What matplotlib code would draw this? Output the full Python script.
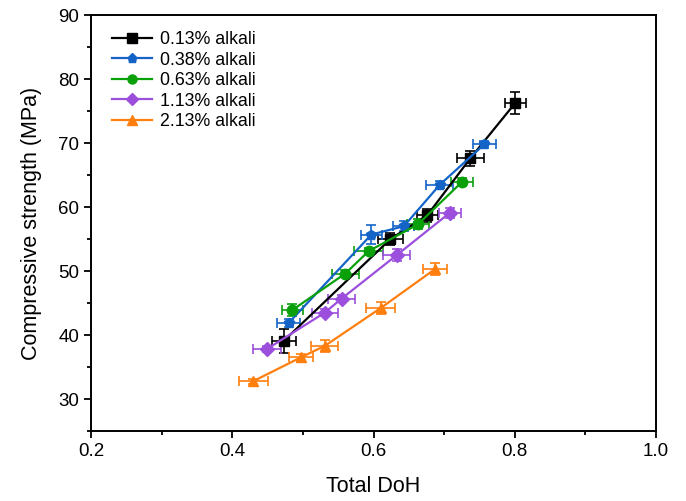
import matplotlib
matplotlib.use("Agg")
import matplotlib.pyplot as plt
from matplotlib.lines import Line2D
from matplotlib.ticker import MultipleLocator

plt.rcParams['font.family'] = ['Liberation Sans', 'DejaVu Sans']

labels = ['0.13% alkali', '0.38% alkali', '0.63% alkali', '1.13% alkali', '2.13% alkali']
colors = ['#000000', '#1464C8', '#0AA00A', '#9B4FDC', '#FF7F0E']
markers = ['s', 'p', 'o', 'D', '^']

doh = [
    [0.473, 0.624, 0.676, 0.737, 0.801],
    [0.480, 0.597, 0.643, 0.694, 0.757],
    [0.485, 0.560, 0.593, 0.663, 0.725],
    [0.449, 0.531, 0.555, 0.633, 0.708],
    [0.430, 0.497, 0.531, 0.610, 0.687],
]
strength = [
    [39.1, 55.0, 58.7, 67.6, 76.3],
    [41.9, 55.7, 57.0, 63.5, 69.8],
    [43.9, 49.6, 53.1, 57.3, 63.9],
    [37.8, 43.5, 45.7, 52.5, 59.1],
    [32.8, 36.5, 38.3, 44.2, 50.3],
]
doh_err = [
    [0.017, 0.0175, 0.015, 0.019, 0.015],
    [0.016, 0.015, 0.015, 0.019, 0.0165],
    [0.015, 0.019, 0.021, 0.015, 0.016],
    [0.020, 0.018, 0.019, 0.019, 0.016],
    [0.020, 0.017, 0.019, 0.020, 0.0165],
]
strength_err = [
    [1.9, 1.0, 1.0, 1.2, 1.7],
    [0.6, 1.5, 0.8, 0.5, 0.5],
    [1.0, 0.6, 0.5, 0.8, 0.6],
    [0.5, 0.6, 0.6, 1.0, 0.8],
    [0.4, 0.5, 0.9, 0.9, 0.9],
]

fig = plt.figure(figsize=(6.86, 5.01), dpi=100)
ax = fig.add_axes([0.1327, 0.1397, 0.8236, 0.8303])

handles = []
for i in range(len(labels)):
    ax.errorbar(doh[i], strength[i], xerr=doh_err[i], yerr=strength_err[i],
                color=colors[i], marker=markers[i], markersize=7.5, linewidth=1.6,
                elinewidth=1.2, capsize=3.5, capthick=1.2)
    handles.append(Line2D([], [], color=colors[i], marker=markers[i],
                          markersize=6.5, linewidth=1.6, label=labels[i]))

ax.set_xlim(0.2, 1.0)
ax.set_ylim(25, 90)
ax.xaxis.set_major_locator(MultipleLocator(0.2))
ax.xaxis.set_minor_locator(MultipleLocator(0.1))
ax.yaxis.set_minor_locator(MultipleLocator(5))
ax.set_yticks([30, 40, 50, 60, 70, 80, 90])
ax.tick_params(which='major', direction='out', length=5, width=1.3, labelsize=13.5)
ax.tick_params(which='minor', direction='out', length=3, width=1.3)
for s in ax.spines.values():
    s.set_linewidth(1.4)

ax.set_xlabel('Total DoH', fontsize=15.5, labelpad=12)
ax.set_ylabel('Compressive strength (MPa)', fontsize=15.5, labelpad=12)

ax.legend(handles=handles, loc='upper left', frameon=False, fontsize=12.8,
          handlelength=2.3, handletextpad=0.4, labelspacing=0.2,
          borderaxespad=0.5, borderpad=0.4,
          bbox_to_anchor=(0.008, 1.0))

fig.savefig('out.png', dpi=100)
